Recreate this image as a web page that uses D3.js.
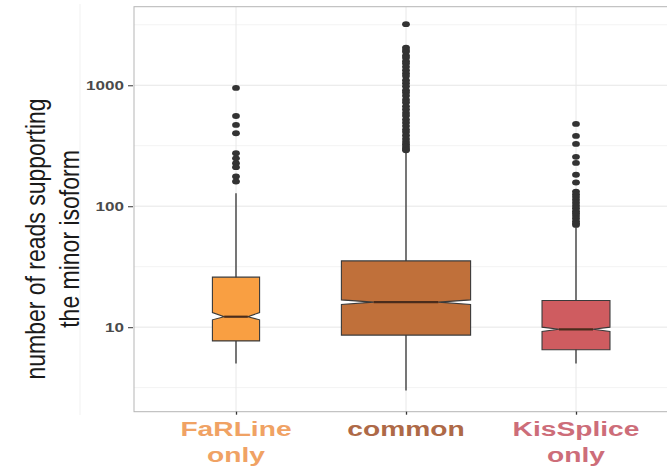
<!DOCTYPE html>
<html>
<head>
<meta charset="utf-8">
<script src="https://cdn.jsdelivr.net/npm/d3@7"></script>
<style>
  body { margin: 0; background: #fff; }
  svg { display: block; font-family: "Liberation Sans", Arial, sans-serif; }
</style>
</head>
<body>
<div id="plot-area"></div>
<script>
// Notched, variable-width boxplots of read counts supporting the minor isoform (log scale)

const categories = ["FaRLine only", "common", "KisSplice only"];
const labelLines = [["FaRLine", "only"], ["common"], ["KisSplice", "only"]];
const counts = [400, 3000, 830]; // drives box width (varwidth)
const whiskerLow = [5, 3, 5];
const q1 = [7.7, 8.6, 6.5];
const notchLow = [11.5, 15.4, 9.2];
const medians = [12.2, 16.1, 9.6];
const notchHigh = [13.2, 16.8, 10.0];
const q3 = [25.9, 35.3, 16.6];
const whiskerHigh = [128, 280, 67];

const outliersFaRLine = [950, 557, 470, 401, 274, 249, 227, 210, 176, 160];
const outliersCommon = [3200, 2050, 1960, 1890, 1760, 1690, 1580, 1510, 1420, 1330, 1250,
  1190, 1100, 1040, 980, 910, 870, 820, 760, 720, 670, 630, 590, 560, 520, 490, 460,
  430, 410, 385, 360, 340, 325, 310, 298, 290];
const outliersKisSplice = [479, 381, 327, 256, 228, 182, 157, 132, 125, 119, 113, 107,
  101, 96, 91, 87, 83, 79, 75, 72, 70];

const yTicks = [10, 100, 1000];
const yMinorTicks = [Math.sqrt(10), Math.sqrt(1000), Math.sqrt(100000), Math.sqrt(10000000)];

// styles
const boxFill = ["#f99f42", "#c0703a", "#cf5c60"];
const labelFill = ["#f0a264", "#ae6947", "#cd6d79"];

const w = 667, h = 469;
const pT = 6.7, pR = -11, pB = 57.3, pL = 134; // panel runs past the right edge

const svg = d3.select("#plot-area").
append("svg").
attr("width", w).
attr("height", h).
style("overflow", "hidden");

const outliers = [outliersFaRLine, outliersCommon, outliersKisSplice];
const df = categories.map((c, i) => ({
  cat: c,
  n: counts[i],
  lo: whiskerLow[i], q1: q1[i], nlo: notchLow[i], med: medians[i],
  nhi: notchHigh[i], q3: q3[i], hi: whiskerHigh[i],
  out: outliers[i],
  fill: boxFill[i]
}));

// Scales
const xScale = d3.scalePoint().
domain(categories).
range([pL, w - pR]).
padding(0.6);

const yScale = d3.scaleLog().
domain([2.0, 4460]).
range([h - pB, pT]);

const step = xScale.step();
const maxSqrt = d3.max(df, d => Math.sqrt(d.n));
const halfW = d => 0.76 * step * Math.sqrt(d.n) / maxSqrt / 2;

// Faint stray line left of the panel
svg.append("line").
attr("x1", 80).attr("x2", 80).
attr("y1", 4).attr("y2", 415).
attr("stroke", "#f1f1f1");

// Gridlines
const grid = svg.append("g");
grid.selectAll(".minor").
data(yMinorTicks).
enter().
append("line").
attr("x1", pL).attr("x2", w - pR).
attr("y1", d => yScale(d)).attr("y2", d => yScale(d)).
attr("stroke", "#f3f3f3").
attr("stroke-width", 1);

grid.selectAll(".major").
data(yTicks).
enter().
append("line").
attr("x1", pL).attr("x2", w - pR).
attr("y1", d => yScale(d)).attr("y2", d => yScale(d)).
attr("stroke", "#e6e6e6").
attr("stroke-width", 1);

grid.selectAll(".vmajor").
data(categories).
enter().
append("line").
attr("x1", d => xScale(d)).attr("x2", d => xScale(d)).
attr("y1", pT).attr("y2", h - pB).
attr("stroke", "#e8e8e8").
attr("stroke-width", 1);

// Whiskers
svg.selectAll(".whisker").
data(df).
enter().
append("line").
attr("x1", d => xScale(d.cat)).attr("x2", d => xScale(d.cat)).
attr("y1", d => yScale(d.lo)).attr("y2", d => yScale(d.hi)).
attr("stroke", "#333").
attr("stroke-width", 1.3);

// Notched boxes
const boxPath = d => {
  const x = xScale(d.cat), hw = halfW(d), ind = hw * 0.5;
  const p = [
  [x - hw, yScale(d.q3)], [x - hw, yScale(d.nhi)], [x - hw + ind, yScale(d.med)],
  [x - hw, yScale(d.nlo)], [x - hw, yScale(d.q1)], [x + hw, yScale(d.q1)],
  [x + hw, yScale(d.nlo)], [x + hw - ind, yScale(d.med)], [x + hw, yScale(d.nhi)],
  [x + hw, yScale(d.q3)]];
  return d3.line()(p) + "Z";
};

svg.selectAll(".box").
data(df).
enter().
append("path").
attr("d", boxPath).
attr("fill", d => d.fill).
attr("stroke", "#3a3a3a").
attr("stroke-width", 1.1);

svg.selectAll(".median").
data(df).
enter().
append("line").
attr("x1", d => xScale(d.cat) - halfW(d) * 0.5).
attr("x2", d => xScale(d.cat) + halfW(d) * 0.5).
attr("y1", d => yScale(d.med)).attr("y2", d => yScale(d.med)).
attr("stroke", "#4a2c1c").
attr("stroke-width", 2.2);

// Outliers
df.forEach(d => {
  svg.append("g").
  selectAll("ellipse").
  data(d.out).
  enter().
  append("ellipse").
  attr("cx", xScale(d.cat)).
  attr("cy", v => yScale(v)).
  attr("rx", 3.9).
  attr("ry", 2.9).
  attr("fill", "#333");
});

// Panel border
svg.append("rect").
attr("x", pL).attr("y", pT).
attr("width", w - pR - pL).attr("height", h - pB - pT).
attr("fill", "none").
attr("stroke", "#b5b5b5").
attr("stroke-width", 1);

// Axes
const yAxis = d3.axisLeft(yScale).
tickValues(yTicks).
tickFormat(d3.format("d")).
tickSize(5).
tickPadding(4);

const yG = svg.append("g").
attr("transform", `translate(${pL - 1} 0)`).
call(yAxis);
yG.select(".domain").remove();
yG.selectAll(".tick line").attr("stroke", "#555").attr("stroke-width", 1.2);
yG.selectAll(".tick text").
attr("fill", "#4a4a4a").
attr("font-size", 12.5).
attr("font-family", "Liberation Sans, Arial, sans-serif").
attr("font-weight", "bold").
attr("textLength", d => String(d).length * 9.5).
attr("lengthAdjust", "spacingAndGlyphs");

const xAxis = d3.axisBottom(xScale).
tickSize(3).
tickFormat("");

const xG = svg.append("g").
attr("transform", `translate(0 ${h - pB})`).
call(xAxis);
xG.select(".domain").remove();
xG.selectAll(".tick line").attr("stroke", "#333").attr("stroke-width", 1.3);

// Category labels (stretched horizontally like the original)
categories.forEach((c, i) => {
  const g = svg.append("g").
  attr("transform", `translate(${xScale(c)} 0) scale(1.41 1)`);
  g.selectAll("text").
  data(labelLines[i]).
  enter().
  append("text").
  attr("x", 0).
  attr("y", (d, j) => 436.5 + j * 26).
  attr("text-anchor", "middle").
  attr("font-size", 20).
  attr("font-weight", "bold").
  attr("fill", labelFill[i]).
  text(d => d);
});

// Y axis title
const yTitle = svg.append("g").
attr("transform", "translate(0 239) scale(1.2 1) rotate(-90)");
yTitle.selectAll("text").
data(["number of reads supporting", "the minor isoform"]).
enter().
append("text").
attr("x", 0).
attr("y", (d, i) => 37.5 + i * 28.5).
attr("text-anchor", "middle").
attr("font-size", 23).
attr("fill", "#1a1a1a").
text(d => d);
</script>
</body>
</html>
